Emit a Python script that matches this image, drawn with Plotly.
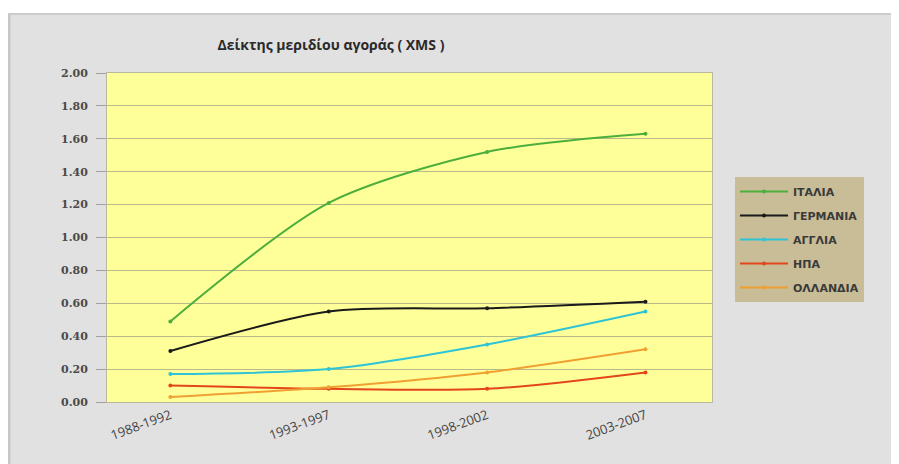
import plotly.graph_objects as go

# periods on the x axis
periods = ["1988-1992", "1993-1997", "1998-2002", "2003-2007"]

# XMS index per country
italia = [0.49, 1.21, 1.52, 1.63]
germania = [0.31, 0.55, 0.57, 0.61]
anglia = [0.17, 0.20, 0.35, 0.55]
hpa = [0.10, 0.08, 0.08, 0.18]
ollandia = [0.03, 0.09, 0.18, 0.32]

series = [
    ("ΙΤΑΛΙΑ", italia, "#4caf3c"),
    ("ΓΕΡΜΑΝΙΑ", germania, "#1a1a1a"),
    ("ΑΓΓΛΙΑ", anglia, "#2ec4d6"),
    ("ΗΠΑ", hpa, "#e2461c"),
    ("ΟΛΛΑΝΔΙΑ", ollandia, "#f0a032"),
]

# page has an 8px body margin, so work in screen pixels and shift
OFF = 8
W, H = 899 - OFF, 464 - OFF
L, R, T, B = 107 - OFF, 712 - OFF, 73 - OFF, 402 - OFF

def px_x(p):
    return (p - OFF - L) / (R - L)

def px_y(p):
    return (B - (p - OFF)) / (B - T)

fig = go.Figure()
for name, vals, col in series:
    fig.add_trace(go.Scatter(
        x=list(range(len(periods))), y=vals, name=name,
        mode="lines+markers",
        line=dict(color=col, width=2, shape="spline", smoothing=0.8),
        marker=dict(color=col, size=4),
        legendgroup=name,
    ))

fig.update_layout(
    width=W, height=H,
    margin=dict(l=L, r=W - R, t=T, b=H - B),
    paper_bgcolor="#e1e1e1",
    plot_bgcolor="#ffff99",
    showlegend=True,
    title=dict(
        text="<b>Δείκτης μεριδίου αγοράς ( XMS )</b>",
        x=(331 - OFF) / W, xanchor="center",
        y=1 - (45 - OFF) / H, yanchor="middle",
        font=dict(family="Open Sans, DejaVu Sans", size=14, color="#2a2a2a"),
    ),
    legend=dict(
        x=px_x(735), y=px_y(177), xanchor="left", yanchor="top",
        bgcolor="#c9bd98", borderwidth=0,
        font=dict(family="DejaVu Sans", size=11, color="#3a3a3a",
                  weight="bold"),
        traceorder="grouped", tracegroupgap=5,
        itemwidth=48,
    ),
    shapes=[
        dict(type="rect", xref="paper", yref="paper",
             x0=px_x(0), x1=px_x(905), y0=px_y(0), y1=px_y(13),
             fillcolor="white", line=dict(width=0), layer="above"),
        dict(type="line", xref="paper", yref="paper",
             x0=px_x(9), x1=px_x(9), y0=px_y(470), y1=px_y(13),
             line=dict(color="#c6c6c6", width=3), layer="below"),
        dict(type="line", xref="paper", yref="paper",
             x0=px_x(7), x1=px_x(905), y0=px_y(14), y1=px_y(14),
             line=dict(color="#cccccc", width=2), layer="below"),
    ],
)

fig.update_xaxes(
    range=[-0.4, 3.42],
    tickmode="array", tickvals=list(range(len(periods))), ticktext=periods,
    tickangle=-20, showgrid=False, zeroline=False,
    showline=True, linecolor="#b8b8a0", mirror=True,
    tickfont=dict(family="Open Sans, DejaVu Sans", size=13, color="#444444"),
)
fig.update_yaxes(
    range=[0, 2.0], dtick=0.2, tickformat=".2f",
    showgrid=True, gridcolor="#b9b98a", gridwidth=1, zeroline=False,
    showline=True, linecolor="#b8b8a0", mirror=True,
    ticks="outside", ticklen=10, tickcolor="#a0a0a0",
    ticklabelstandoff=6,
    tickfont=dict(family="DejaVu Serif", size=11, color="#4a4a4a",
                  weight="bold"),
)

fig.write_html("out.html")
